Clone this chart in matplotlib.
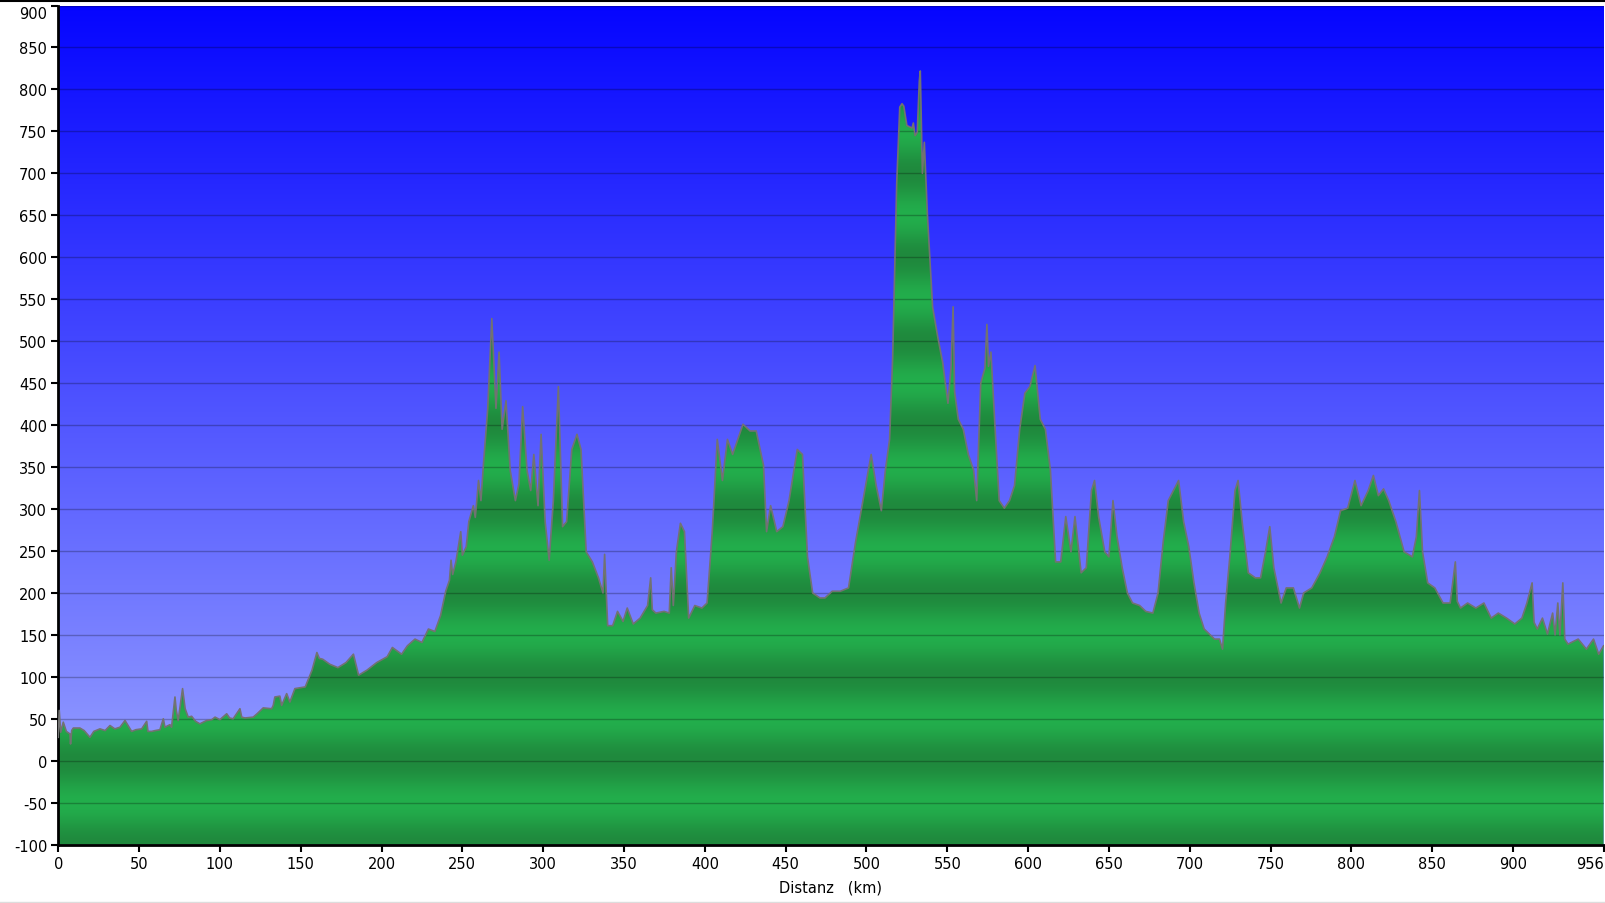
import numpy as np
import matplotlib
matplotlib.use("Agg")
import matplotlib.pyplot as plt
from matplotlib.lines import Line2D

plt.rcParams["axes.unicode_minus"] = False

# Elevation profile (km, m)
km = [0, 0.6, 1.5, 3.1, 5, 7.2, 7.6, 8.3, 9.3, 13.4, 16, 19.6, 22, 25.8, 29, 32, 35, 38.2,
      41.3, 45.4, 48, 51.6, 54.7, 55.5, 57.8, 60, 62.9, 65, 66, 69.1, 70.1, 72.2, 73, 74.2,
      76.9, 78.5, 80.4, 82.5, 85, 87.6, 91.8, 95, 97, 100, 104.2, 106, 108.2, 112.4, 113.5,
      115.5, 120.6, 123, 126.8, 132, 133, 134, 137.1, 138.2, 141.3, 143.3, 146.4, 149.5,
      152.8, 157, 160, 161.5, 163.6, 168, 173, 178, 182.6, 185.8, 191, 197, 203.5, 206.7,
      212.4, 216, 220.7, 225, 229, 233, 236.5, 239.7, 242, 243, 244, 246, 249, 250, 252.4,
      254, 256.8, 258, 260, 261.5, 263, 265.7, 268.2, 270.8, 272.7, 274.6, 277, 279.6, 282.8,
      285, 287.3, 290, 292.3, 294.2, 296.8, 298.7, 301.2, 303.7, 306.3, 309.4, 312, 314.5,
      317.7, 320.9, 323.4, 326.6, 330.4, 334.2, 337, 338, 339.9, 343, 346, 349.4, 352, 355.7,
      360, 364.6, 366.5, 367.5, 369.7, 374.8, 378, 379.2, 380.5, 382.4, 384.9, 387.4, 390,
      393.8, 398.2, 401.4, 404.6, 407.7, 410.9, 414, 417.2, 420.4, 423.6, 428, 431.8, 436.3,
      438.2, 440.7, 444.5, 448.3, 452.1, 457.2, 460.4, 463.5, 466.7, 471.2, 474.3, 478.8,
      483.8, 488.9, 493.3, 497.8, 502.9, 506, 509.2, 511.7, 514.3, 516.2, 518.7, 520.6, 522,
      523.1, 525, 528.2, 529, 530.1, 531.4, 532.7, 533.3, 534.6, 535.8, 537.7, 540.9, 544.1,
      547.2, 550.4, 552.3, 553.6, 554.5, 556.8, 559.9, 563, 566.3, 568.2, 570.7, 573.3, 574.5,
      575.5, 577, 579.6, 582.1, 585.3, 588.5, 591.6, 594.8, 598, 601.1, 604.3, 607.5, 610.7,
      613.8, 617, 620.2, 623.3, 626.5, 629, 632.8, 636, 639.2, 641.1, 643.6, 647.4, 650,
      652.5, 655, 658.2, 661.4, 664.6, 669, 672.8, 677.2, 680.4, 683.6, 686.7, 689.9, 693.1,
      696.2, 699.4, 702.6, 705.8, 708.9, 712.1, 715.3, 718.4, 720.3, 722.2, 724.8, 728, 729.9,
      732.4, 736.2, 740.6, 743.8, 746.9, 749.5, 752, 756.5, 759.7, 764.1, 767.9, 770.5, 775.5,
      780.6, 785, 789.5, 793.3, 797.7, 802.2, 806, 810.4, 813.6, 816.7, 819.9, 823.1, 827.5,
      832.6, 837.7, 840.2, 842.1, 844, 847.2, 851.6, 856.7, 861.1, 864.3, 865.5, 867.5, 871.9,
      877, 882, 886.5, 890.9, 896, 901.1, 905.5, 908.6, 911.8, 913, 915, 918.2, 921.3, 924.5,
      926, 927.7, 929, 930.8, 932, 934, 940.3, 945.4, 949.8, 953, 956]
elev = [28, 60, 34, 46, 35, 32, 20, 36, 39, 39, 36, 28, 35, 38, 36, 42, 38, 40,
        48, 35, 37, 38, 47, 35, 35, 36, 37, 50, 40, 43, 40, 76, 60, 48,
        86, 62, 52, 53, 47, 44, 48, 49, 52, 49, 56, 51, 50, 62, 52,
        51, 52, 56, 63, 62, 66, 76, 77, 66, 80, 70, 86, 87,
        88, 108, 129, 122, 121, 115, 111, 117, 127, 102, 108, 117, 124, 135,
        127, 137, 145, 141, 157, 154, 173, 202, 215, 239, 222, 237, 273, 245, 255,
        285, 304, 290, 334, 310, 352, 420, 527, 420, 487, 395, 429, 346, 310,
        330, 422, 346, 322, 365, 304, 389, 285, 239, 310, 446, 279, 285,
        371, 389, 371, 249, 237, 218, 200, 246, 161, 161, 178, 166, 182, 163,
        170, 185, 218, 180, 176, 178, 176, 230, 185, 249, 283, 273, 170,
        185, 182, 188, 273, 383, 334, 383, 365, 383, 401, 393, 393, 352,
        273, 304, 273, 279, 310, 371, 365, 243, 200, 194, 194, 202,
        202, 206, 261, 310, 365, 328, 298, 346, 383, 480, 688, 779, 783,
        780, 757, 754, 760, 745, 749, 810, 822, 700, 737, 651, 541, 505,
        474, 426, 468, 541, 440, 407, 395, 365, 346, 310, 450, 468, 520,
        470, 487, 395, 310, 301, 310, 328, 395, 438, 446, 471, 407, 395,
        346, 237, 237, 291, 249, 291, 224, 230, 322, 334, 291, 249, 243,
        310, 267, 230, 200, 188, 185, 178, 176, 200, 261, 310, 322, 334,
        285, 255, 212, 176, 157, 151, 145, 145, 133, 188, 243, 322, 334,
        285, 224, 218, 218, 249, 279, 230, 188, 206, 206, 182, 200, 206,
        224, 243, 267, 298, 301, 334, 304, 322, 340, 316, 324, 310, 285,
        249, 243, 267, 322, 249, 212, 206, 188, 188, 237, 190, 182, 188,
        182, 188, 170, 176, 170, 163, 170, 188, 212, 165, 157, 170, 151, 176,
        150, 188, 150, 212, 145, 139, 145, 133, 145, 127, 137]

xticks = list(range(0, 901, 50)) + [956]
yticks = list(range(-100, 901, 50))

fig = plt.figure(figsize=(16.05, 9.04), dpi=100)
ax = fig.add_axes([0.0363, 0.0645, 0.9628, 0.9283])

ymin, ymax = -100, 900
xmax = 956

# blue sky gradient
t = np.linspace(0, 1, 400)[:, None]
top = np.array([5, 5, 255]) / 255
bottom = np.array([160, 170, 255]) / 255
bg = (bottom * (1 - t) + top * t).reshape(400, 1, 3)
ax.imshow(bg, extent=[0, xmax, ymin, ymax], aspect="auto", origin="lower", zorder=0)

# banded green fill, darker at every 100 m
yy = np.linspace(ymin, ymax, 1000)
w = ((1 - np.cos(2 * np.pi * yy / 100)) / 2)[:, None]
dark = np.array([31, 137, 61]) / 255
light = np.array([35, 174, 76]) / 255
gr = (dark * (1 - w) + light * w).reshape(1000, 1, 3)
poly = ax.fill_between(km, elev, ymin, facecolor="none", edgecolor="none")
im = ax.imshow(gr, extent=[0, xmax, ymin, ymax], aspect="auto", origin="lower", zorder=1)
im.set_clip_path(poly.get_paths()[0], transform=ax.transData)

for yv in yticks:
    ax.axhline(yv, color="black", alpha=0.25, lw=1, zorder=2)

ax.plot(km, elev, color="#727272", lw=1.2, zorder=3)

ax.set_xlim(0, xmax)
ax.set_ylim(ymin, ymax)
ax.set_xticks(xticks)
ax.set_yticks(yticks)
ax.tick_params(direction="out", length=5, width=1.5, labelsize=10.5, pad=3, colors="black")
ax.get_xticklabels()[-1].set_horizontalalignment("right")
ax.get_yticklabels()[-1].set_verticalalignment("top")
for s in ["top", "right"]:
    ax.spines[s].set_visible(False)
for s in ["left", "bottom"]:
    ax.spines[s].set_linewidth(2)
ax.set_xlabel("Distanz   (km)", fontsize=10.5, labelpad=6)

fig.add_artist(Line2D([0, 1], [1 - 2 / 904, 1 - 2 / 904], color="black", lw=1.5))
fig.add_artist(Line2D([0, 1], [1.5 / 904, 1.5 / 904], color="#dddddd", lw=1))

fig.savefig("out.png", dpi=100)
